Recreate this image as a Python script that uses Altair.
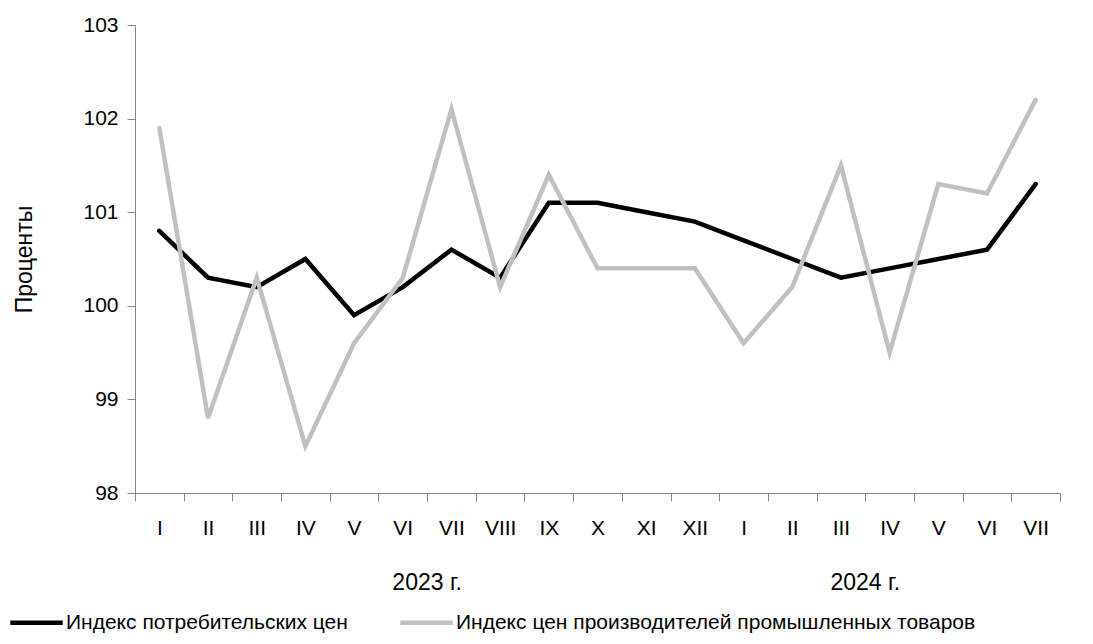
import altair as alt
import pandas as pd

months = ["I", "II", "III", "IV", "V", "VI", "VII", "VIII", "IX", "X", "XI", "XII",
          "I", "II", "III", "IV", "V", "VI", "VII"]
cpi = [100.8, 100.3, 100.2, 100.5, 99.9, 100.2, 100.6, 100.3, 101.1, 101.1, 101.0, 100.9,
       100.7, 100.5, 100.3, 100.4, 100.5, 100.6, 101.3]
ppi = [101.9, 98.8, 100.3, 98.5, 99.6, 100.3, 102.1, 100.2, 101.4, 100.4, 100.4, 100.4,
       99.6, 100.2, 101.5, 99.5, 101.3, 101.2, 102.2]
series_names = ["Индекс потребительских цен", "Индекс цен производителей промышленных товаров"]
series_colors = ["#000000", "#c0c0c0"]
years = ["2023 г.", "2024 г."]
year_pos = [6, 15]

FONT = "Liberation Sans"
W, H = 925, 468
n = len(months)

rows = []
for i in range(n):
    rows.append({"idx": i, "month": months[i], "series": series_names[0], "value": cpi[i]})
for i in range(n):
    rows.append({"idx": i, "month": months[i], "series": series_names[1], "value": ppi[i]})
df = pd.DataFrame(rows)
ydf = pd.DataFrame({"label": years, "pos": year_pos})

month_js = "[" + ",".join("'" + m + "'" for m in months) + "]"

xscale = alt.Scale(domain=[0, n], nice=False, zero=False)
xaxis = alt.Axis(
    values=list(range(0, n + 1)),
    labelExpr=f"datum.value < {n} ? {month_js}[datum.value] : ''",
    labelOffset=W / n / 2,
    grid=False, tickSize=8, tickColor="#868686", domainColor="#868686",
    labelFont=FONT, labelFontSize=21, labelColor="#000000", labelPadding=16,
    title=None, labelFlush=False, labelOverlap=False,
)
yaxis = alt.Axis(
    values=[98, 99, 100, 101, 102, 103], grid=False, tickSize=8,
    tickColor="#868686", domainColor="#868686",
    labelFont=FONT, labelFontSize=21, labelColor="#000000", labelPadding=9,
    title="Проценты", titleFont=FONT, titleFontSize=23, titleFontWeight="normal",
    titleColor="#000000", titlePadding=46,
)
color = alt.Color(
    "series:N",
    scale=alt.Scale(domain=series_names, range=series_colors),
    legend=alt.Legend(
        orient="none", direction="horizontal", legendX=-127, legendY=569,
        title=None, symbolType="stroke", symbolSize=2750, symbolStrokeWidth=4.5,
        symbolOpacity=1,
        labelFont=FONT, labelFontSize=21, labelColor="#000000", labelOffset=1,
        columnPadding=43, labelLimit=700, padding=0,
    ),
)

base = alt.Chart(df).transform_calculate(xpos="datum.idx + 0.5")

lines = []
for s in series_names:
    lines.append(
        base.transform_filter(alt.datum.series == s).mark_line(strokeWidth=4.5, strokeCap="round").encode(
            x=alt.X("xpos:Q", scale=xscale, axis=xaxis),
            y=alt.Y("value:Q", scale=alt.Scale(domain=[98, 103], nice=False, zero=False), axis=yaxis),
            color=color,
        )
    )

year_text = alt.Chart(ydf).mark_text(font=FONT, fontSize=23, color="#000000", baseline="middle").encode(
    x=alt.X("pos:Q", scale=xscale),
    y=alt.value(H + 90),
    text="label:N",
)

chart = alt.layer(*lines, year_text).properties(
    width=W, height=H,
    autosize=alt.AutoSizeParams(type="none"),
    padding={"left": 127, "top": 17, "right": 25, "bottom": 143},
).configure_view(stroke=None)

chart.save("out.html", embed_options={"renderer": "svg", "actions": False})
